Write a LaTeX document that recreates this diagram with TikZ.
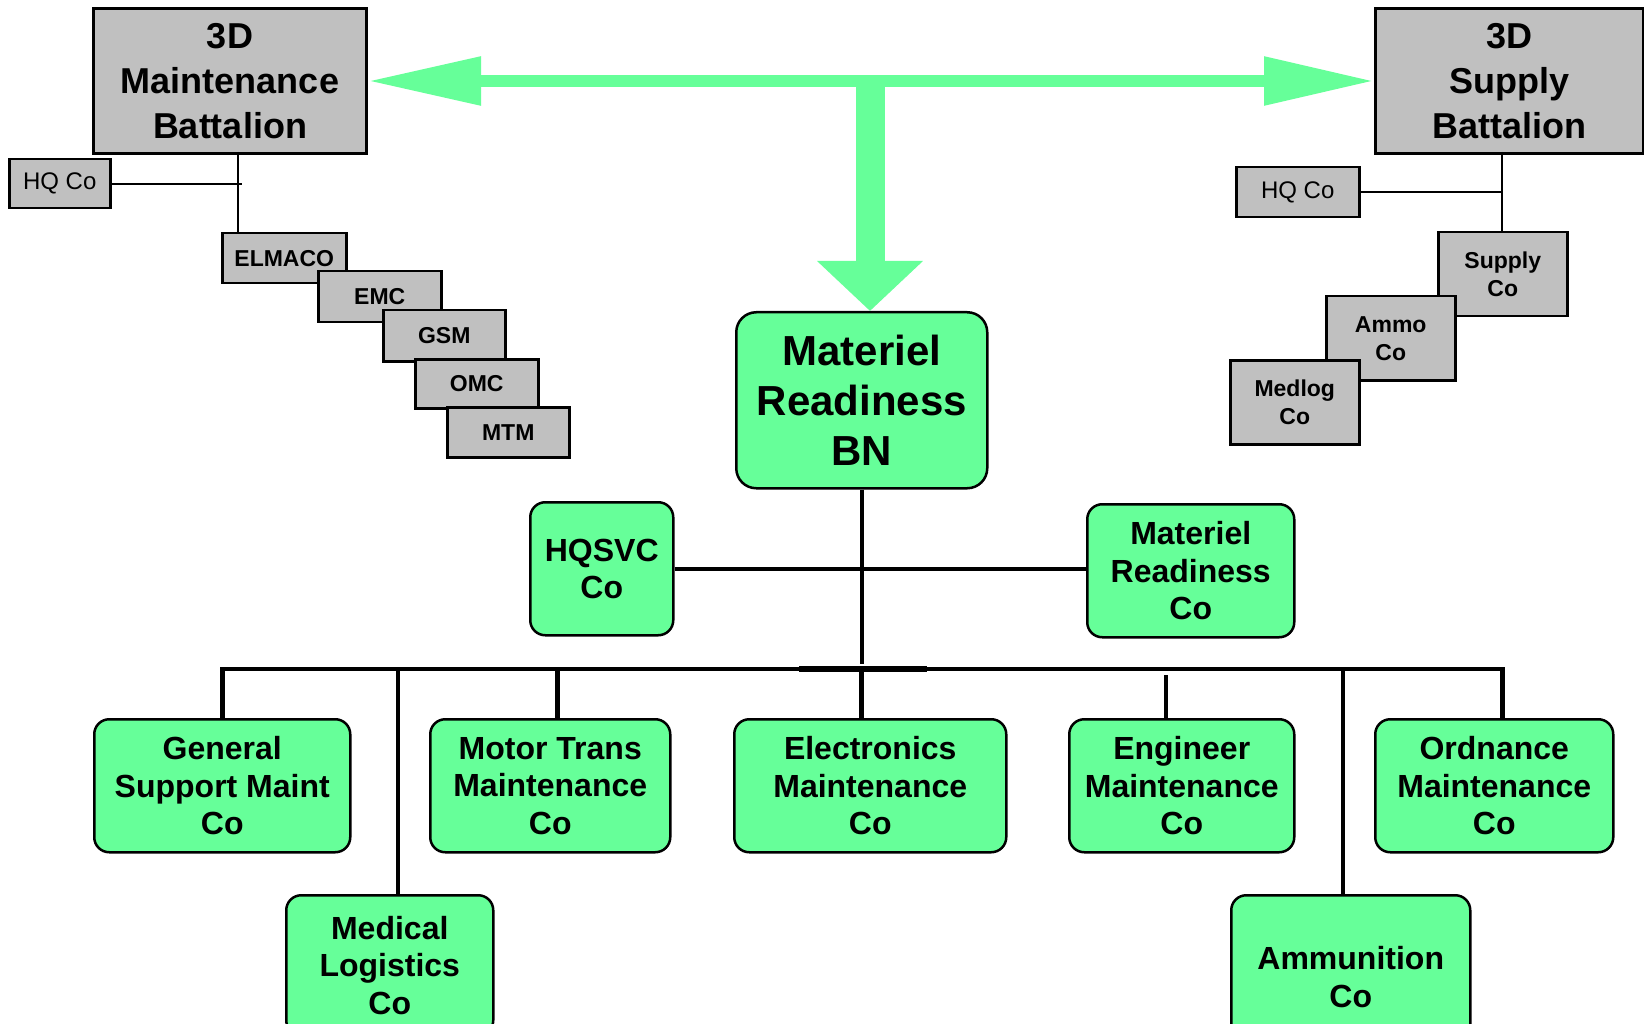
\documentclass[tikz,border=0pt]{standalone}
\usepackage{fontspec}
\setmainfont{Liberation Sans}
\usetikzlibrary{arrows.meta}
\definecolor{mrgreen}{RGB}{102,255,153}
\definecolor{mrgray}{RGB}{192,192,192}
\begin{document}
\begin{tikzpicture}[x=1pt,y=-1pt,line join=miter,
    graybig/.style={draw,line width=3pt,fill=mrgray,inner sep=0pt,anchor=north west,align=center,font=\bfseries\fontsize{36}{45}\selectfont},
    graysmall/.style={draw,line width=2.5pt,fill=mrgray,inner sep=0pt,anchor=north west,align=center,font=\bfseries\fontsize{23}{28}\selectfont},
    hqbox/.style={graysmall,font=\fontsize{24}{28}\selectfont},
    greenbox/.style={draw,line width=2.5pt,fill=mrgreen,rounded corners=15pt,inner sep=0pt,anchor=north west,align=center,font=\bfseries\fontsize{32}{37.5}\selectfont},
    linkline/.style={line width=2pt},
    busline/.style={line width=4.5pt},
    greenarrow/.style={draw=mrgreen}]
    \clip (0,0) rectangle (1644,1024);
    \fill[white] (0,0) rectangle (1644,1024);
    % parent battalions
    \node[graybig,minimum width=273,minimum height=145] (maint) at (92,7) {3D\\Maintenance\\Battalion};
    \node[graybig,minimum width=268,minimum height=145] (supply) at (1374,7) {3D\\Supply\\Battalion};
    \draw[greenarrow,line width=12pt,{Triangle[length=113pt,width=46pt]}-{Triangle[length=110pt,width=46pt]}] (maint.east) -- (supply.west);
    % maintenance battalion companies
    \coordinate (mtap) at (238,152);
    \node[hqbox,minimum width=101,minimum height=49] (hqmaint) at (8,158) {HQ Co};
    \draw[linkline] (mtap) -- (mtap |- 0,232);
    \draw[linkline] (hqmaint.east) -- ([xshift=4pt]hqmaint.east -| mtap);
    \node[graysmall,minimum width=124,minimum height=50] (elmaco) at (221,232) {ELMACO};
    \node[graysmall,minimum width=123,minimum height=51] (emc) at (317,270) {EMC};
    \node[graysmall,minimum width=122,minimum height=51] (gsm) at (382,309) {GSM};
    \node[graysmall,minimum width=123,minimum height=49] (omc) at (414,358) {OMC};
    \node[graysmall,minimum width=122,minimum height=50] (mtm) at (446,406) {MTM};
    % supply battalion companies
    \coordinate (stap) at (1502,152);
    \node[hqbox,minimum width=123,minimum height=50] (hqsup) at (1235,166) {HQ Co};
    \draw[linkline] (stap) -- (stap |- 0,231);
    \draw[linkline] (hqsup.east) -- (hqsup.east -| stap);
    \node[graysmall,minimum width=129,minimum height=84] (supco) at (1437,231) {Supply\\Co};
    \node[graysmall,minimum width=129,minimum height=84] (ammoco) at (1325,295) {Ammo\\Co};
    \node[graysmall,minimum width=129,minimum height=84] (medlogco) at (1229,359) {Medlog\\Co};
    % materiel readiness battalion
    \node[greenbox,rounded corners=20pt,minimum width=251,minimum height=176,font=\bfseries\fontsize{42}{50}\selectfont] (bn) at (735,311) {Materiel\\Readiness\\BN};
    \coordinate (junction) at (870,80);
    \draw[greenarrow,line width=29pt,-{Triangle[length=50pt,width=103pt]}] (junction) -- (junction |- bn.north);
    \node[greenbox,minimum width=143,minimum height=133] (hqsvc) at (529,501) {HQSVC\\Co};
    \node[greenbox,minimum width=207,minimum height=133] (mrco) at (1086,503) {Materiel\\Readiness\\Co};
    \draw[line width=4.5pt] (hqsvc.east) -- (hqsvc.east -| mrco.west);
    \coordinate (bus) at (0,669);
    \draw[line width=4pt,shorten >=5pt] (bn.south) -- (bn.south |- bus);
    \node[greenbox,minimum width=256,minimum height=133] (gsmaint) at (93,718) {General\\Support Maint\\Co};
    \node[greenbox,minimum width=240,minimum height=133] (motor) at (429,718) {Motor Trans\\Maintenance\\Co};
    \node[greenbox,minimum width=272,minimum height=133] (elec) at (733,718) {Electronics\\Maintenance\\Co};
    \node[greenbox,minimum width=225,minimum height=133] (engr) at (1068,718) {Engineer\\Maintenance\\Co};
    \node[greenbox,minimum width=238,minimum height=133] (ord) at (1374,718) {Ordnance\\Maintenance\\Co};
    \node[greenbox,minimum width=207,minimum height=140] (medlog) at (285,894) {Medical\\Logistics\\Co};
    \node[greenbox,minimum width=239,minimum height=164] (ammun) at (1230,894) {Ammunition\\Co};
    % company bus
    \draw[busline] (gsmaint.north) |- ([xshift=8pt]ord.north |- bus) -- ([xshift=8pt]ord.north);
    \draw[line width=6.5pt] ([xshift=-63pt]bn.south |- bus) -- ([xshift=65pt]bn.south |- bus);
    \draw[busline] ([xshift=8pt]medlog.north) -- ([xshift=8pt]medlog.north |- bus);
    \draw[busline] ([xshift=7pt]motor.north) -- ([xshift=7pt]motor.north |- bus);
    \draw[busline] ([xshift=-9pt]elec.north) -- ([xshift=-9pt]elec.north |- bus);
    \draw[busline] ([xshift=-16pt]engr.north) -- ([xshift=-16pt,yshift=-6pt]engr.north |- bus);
    \draw[busline] ([xshift=-8pt]ammun.north) -- ([xshift=-8pt]ammun.north |- bus);
\end{tikzpicture}
\end{document}
